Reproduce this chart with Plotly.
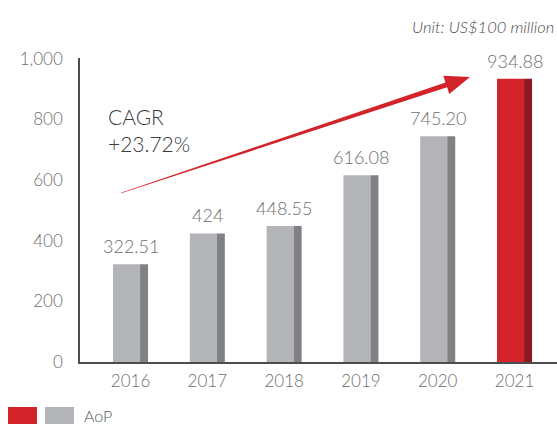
import plotly.graph_objects as go
import math

years = ["2016", "2017", "2018", "2019", "2020", "2021"]
values = [322.51, 424, 448.55, 616.08, 745.20, 934.88]
labels = ["322.51", "424", "448.55", "616.08", "745.20", "934.88"]
highlight = "2021"
y_ticks = [0, 200, 400, 600, 800, 1000]
y_tick_text = ["0", "200", "400", "600", "800", "1,000"]

W, H = 557, 426
L, R, T, B = 80, 0, 58, 64
FONT = "Lato"
GRAY_TXT = "#6d6e71"

face_colors = ["#d2232a" if y == highlight else "#b3b4b7" for y in years]
side_colors = ["#8c1a20" if y == highlight else "#808184" for y in years]

fig = go.Figure()
fig.add_trace(go.Bar(x=years, y=values, marker=dict(color=face_colors, line_width=0),
                     offset=-0.228, width=0.352, showlegend=False, hoverinfo="skip"))
fig.add_trace(go.Bar(x=years, y=values, marker=dict(color=side_colors, line_width=0),
                     offset=0.124, width=0.104, showlegend=False, hoverinfo="skip"))

for i, (v, t) in enumerate(zip(values, labels)):
    fig.add_annotation(x=i, y=v, text=t, showarrow=False, yanchor="bottom", yshift=5,
                       font=dict(family=FONT, size=18, color=GRAY_TXT, weight=300))

def px(x, y):
    return ((x - L) / (W - L - R), (H - B - y) / (H - T - B))

# tapered arrow (decoration)
sx, sy = 121, 193
tx, ty = 470, 77
dx, dy = tx - sx, ty - sy
ln = math.hypot(dx, dy)
ux, uy = dx / ln, dy / ln
pxv, pyv = -uy, ux
head_len, head_half, shaft_half, start_half = 25, 9.5, 2.6, 0.3
bx, by = tx - head_len * ux, ty - head_len * uy
pts = [
    (sx + start_half * pxv, sy + start_half * pyv),
    (bx + shaft_half * pxv, by + shaft_half * pyv),
    (bx + head_half * pxv, by + head_half * pyv),
    (tx, ty),
    (bx - head_half * pxv, by - head_half * pyv),
    (bx - shaft_half * pxv, by - shaft_half * pyv),
    (sx - start_half * pxv, sy - start_half * pyv),
]
path = "M " + " L ".join(f"{px(a, b)[0]:.5f},{px(a, b)[1]:.5f}" for a, b in pts) + " Z"
fig.add_shape(type="path", path=path, xref="paper", yref="paper",
              fillcolor="#d2232a", line=dict(width=0))

fig.add_annotation(x=px(106, 0)[0], y=px(0, 130)[1], xref="paper", yref="paper",
                   text="CAGR<br>+23.72%", showarrow=False, xanchor="left", yanchor="middle",
                   align="left", font=dict(family=FONT, size=21, color="#3a3a3c", weight=300))

fig.add_annotation(x=px(556, 0)[0], y=px(0, 27)[1], xref="paper", yref="paper",
                   text="<i>Unit: US$100 million</i>", showarrow=False, xanchor="right",
                   yanchor="middle", font=dict(family=FONT, size=16.5, color="#4d4d4f", weight=300))

# legend
fig.add_shape(type="rect", xref="paper", yref="paper",
              x0=px(8, 0)[0], x1=px(37, 0)[0], y0=px(0, 424)[1], y1=px(0, 407)[1],
              fillcolor="#d2232a", line_width=0)
fig.add_shape(type="rect", xref="paper", yref="paper",
              x0=px(45, 0)[0], x1=px(74, 0)[0], y0=px(0, 424)[1], y1=px(0, 407)[1],
              fillcolor="#b3b4b7", line_width=0)
fig.add_annotation(x=px(82, 0)[0], y=px(0, 415)[1], xref="paper", yref="paper",
                   text="AoP", showarrow=False, xanchor="left", yanchor="middle",
                   font=dict(family=FONT, size=16, color="#58595b", weight=300))

fig.update_layout(
    width=W, height=H, margin=dict(l=L, r=R, t=T, b=B),
    paper_bgcolor="white", plot_bgcolor="white", barmode="overlay",
    showlegend=False,
)
fig.update_xaxes(type="category", range=[-0.658, 5.553], showgrid=False, showline=True,
                 linecolor="#4d4d4f", linewidth=1.5, ticks="", zeroline=False,
                 tickfont=dict(family=FONT, size=17, color=GRAY_TXT, weight=300),
                 ticklabelstandoff=3)
fig.update_yaxes(range=[0, 1003], tickvals=y_ticks, ticktext=y_tick_text, showgrid=False,
                 showline=True, linecolor="#4d4d4f", linewidth=1.5, ticks="", zeroline=False,
                 tickfont=dict(family=FONT, size=17, color=GRAY_TXT, weight=300),
                 ticklabelstandoff=12)

fig.write_html("out.html", config={"displayModeBar": False},
               post_script="document.body.style.margin='0';document.body.style.overflow='hidden';")
